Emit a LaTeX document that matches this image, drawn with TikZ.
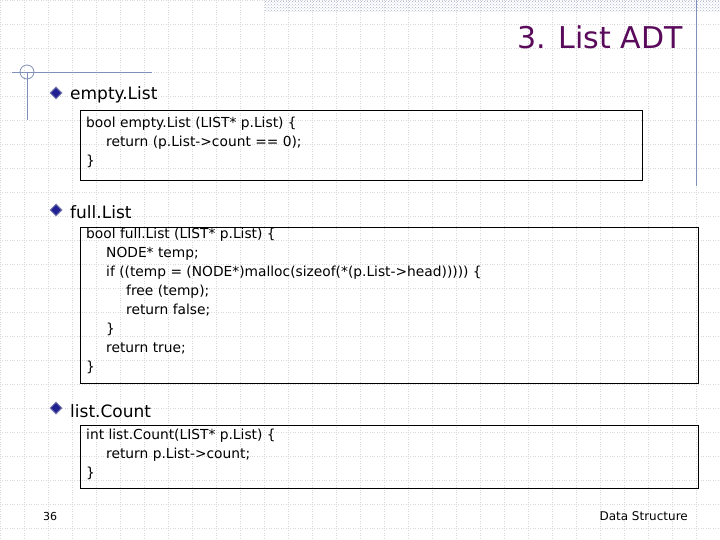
\documentclass[tikz,border=0pt]{standalone}
\usepackage{fontspec}
\setmainfont{DejaVu Sans}
\usetikzlibrary{patterns,shapes.geometric}
\definecolor{ttl}{HTML}{5A0A5A}
\definecolor{lnc}{HTML}{8090B8}
\definecolor{grd}{HTML}{D8D8D8}
\definecolor{hd}{HTML}{282878}
\begin{document}
\begin{tikzpicture}[x=1pt,y=-1pt,
 code/.style={anchor=north west,inner sep=0pt,font=\fontsize{13.8}{19}\selectfont,align=left,text=black},
 cbox/.style={draw=black,line width=0.8pt},
 head/.style={anchor=west,inner sep=0pt,font=\fontsize{17}{18}\selectfont,text=black},
 bul/.style={shape=diamond,draw=hd!60,fill=hd!80!blue,line width=1pt,minimum size=12pt,inner sep=0pt}]
\useasboundingbox (0,0) rectangle (720,540);
\fill[white] (0,0) rectangle (720,540);
\foreach \i in {0,...,30} {\draw[grd,dotted,line width=0.4pt] (\i*24,0) -- (\i*24,540);}
\foreach \i in {0,...,22} {\draw[grd,dotted,line width=0.4pt] (0,\i*24) -- (720,\i*24);}
\fill[pattern=crosshatch dots,pattern color=lnc!70] (265,0) rectangle (720,12);
\draw[lnc,line width=0.8pt] (696,0) -- (696,186);
\draw[lnc,line width=0.8pt] (12,72) -- (152,72);
\draw[lnc,line width=0.8pt] (27,72) circle (7);
\draw[lnc,line width=0.8pt] (27,72) -- (27,120);
\node[anchor=east,inner sep=0pt,text=ttl,font=\fontsize{30}{32}\selectfont] (title) at (683,37) {3. List ADT};
\node[bul] (d1) at (56,93) {};
\node[head] (h1) at (70,95) {empty.List};
\node[bul] (d2) at (56,210) {};
\node[head] (h2) at (70,212) {full.List};
\node[bul] (d3) at (56,408) {};
\node[head] (h3) at (70,411) {list.Count};
\draw[cbox] (80,110) rectangle (642,180);
\draw[cbox] (80,227) rectangle (698,383);
\draw[cbox] (80,425) rectangle (698,488);
\node[code] (c1) at (86,117) {bool empty.List (LIST* p.List) \{\\\hspace{20pt}return (p.List->count == 0);\\\}};
\node[code] (c2) at (86,228) {bool full.List (LIST* p.List) \{\\\hspace{20pt}NODE* temp;\\\hspace{20pt}if ((temp = (NODE*)malloc(sizeof(*(p.List->head))))) \{\\\hspace{40pt}free (temp);\\\hspace{40pt}return false;\\\hspace{20pt}\}\\\hspace{20pt}return true;\\\}};
\node[code] (c3) at (86,429) {int list.Count(LIST* p.List) \{\\\hspace{20pt}return p.List->count;\\\}};
\node[anchor=west,inner sep=0pt,font=\fontsize{11}{12}\selectfont] (pg) at (43,516) {36};
\node[anchor=east,inner sep=0pt,font=\fontsize{12}{13}\selectfont] (ft) at (688,516) {Data Structure};
\end{tikzpicture}
\end{document}
